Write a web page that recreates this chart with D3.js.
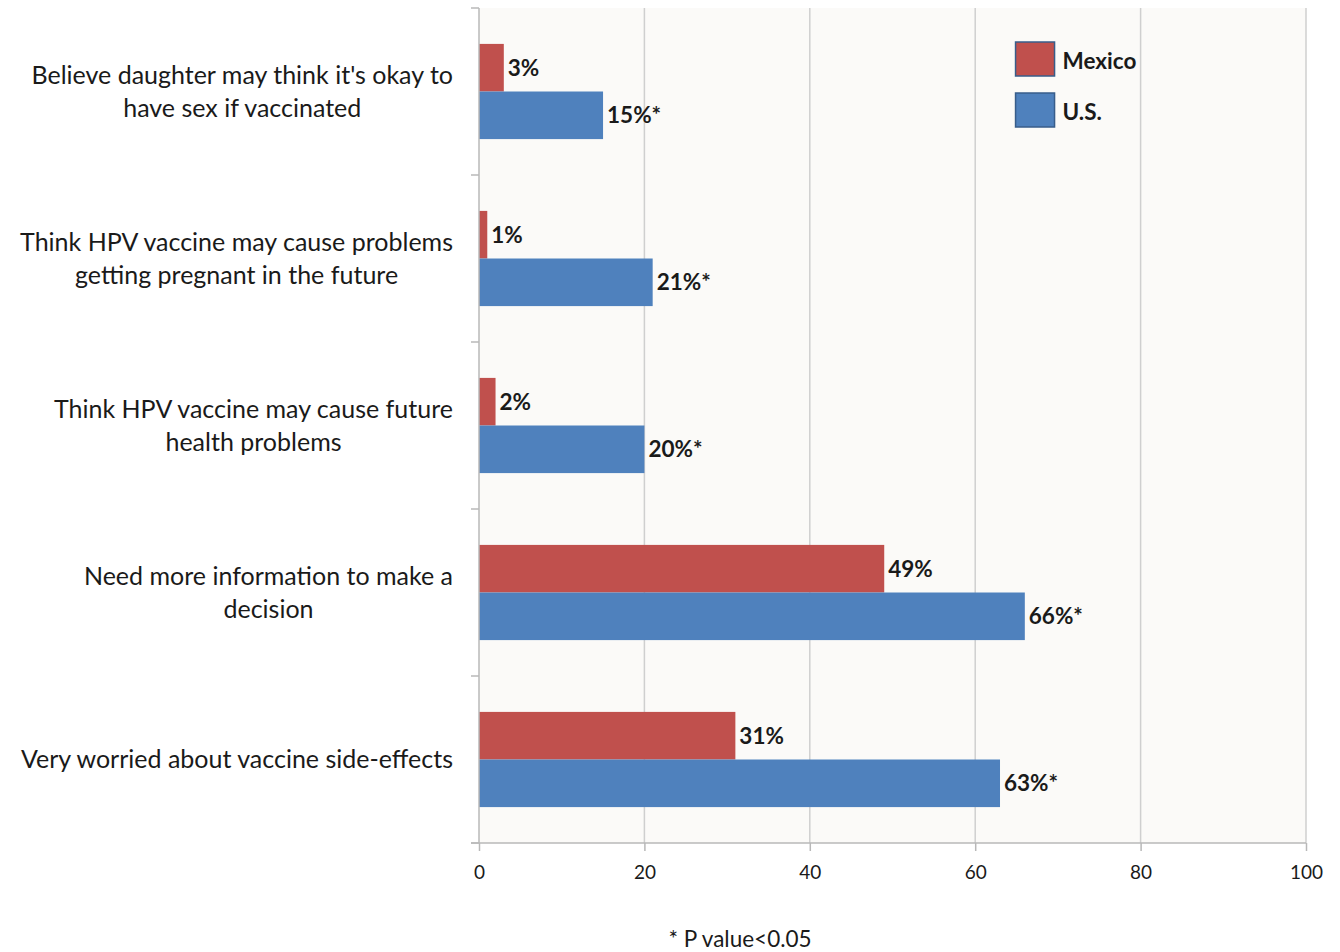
<!DOCTYPE html>
<html lang="en">
<head>
<meta charset="UTF-8">
<title>HPV vaccine concerns: Mexico vs U.S.</title>
<script src="https://d3js.org/d3.v7.min.js"></script>
<style>
  body { margin: 0; background: #fff; }
  text { font-family: Lato, "Open Sans", sans-serif; fill: #1a1a1a; }
</style>
</head>
<body>
<svg width="1340" height="952"></svg>
<script>
    // Data
    const categories = [
        ["Believe daughter may think it's okay to", "have sex if vaccinated"],
        ["Think HPV vaccine may cause problems", "getting pregnant in the future"],
        ["Think HPV vaccine may cause future", "health problems"],
        ["Need more information to make a", "decision"],
        ["Very worried about vaccine side-effects"]
    ];
    const series = ["Mexico", "U.S."];
    const mexico = [3, 1, 2, 49, 31];
    const us = [15, 21, 20, 66, 63];
    const mexicoLabels = ["3%", "1%", "2%", "49%", "31%"];
    const usLabels = ["15%*", "21%*", "20%*", "66%*", "63%*"];
    const xTicks = [0, 20, 40, 60, 80, 100];
    const colors = { "Mexico": "#c0504d", "U.S.": "#4f81bd" };

    const svg = d3.select("svg");
    const margin = { top: 8, right: 34, bottom: 109, left: 479 };
    const width = 1340 - margin.left - margin.right;
    const height = 952 - margin.top - margin.bottom;

    const g = svg.append("g")
        .attr("transform", `translate(${margin.left},${margin.top})`);

    // plot background
    g.append("rect")
        .attr("width", width)
        .attr("height", height)
        .attr("fill", "#fbfaf8");

    const x = d3.scaleLinear().domain([0, 100]).range([0, width]);
    const y0 = d3.scaleBand().domain(d3.range(categories.length)).range([0, height]);
    const y1 = d3.scaleBand().domain(series)
        .range([y0.bandwidth() * 0.215, y0.bandwidth() * 0.785]);

    // vertical gridlines
    g.selectAll("line.grid")
        .data(xTicks.slice(1))
        .enter().append("line")
            .attr("class", "grid")
            .attr("x1", d => x(d)).attr("x2", d => x(d))
            .attr("y1", 0).attr("y2", height)
            .attr("stroke", "#cfcfcf")
            .attr("stroke-width", 1.5);

    // bars
    const rows = categories.map((c, i) => ({ i, values: [
        { key: "Mexico", v: mexico[i], label: mexicoLabels[i] },
        { key: "U.S.", v: us[i], label: usLabels[i] }
    ]}));

    const rowG = g.selectAll("g.row")
        .data(rows)
        .enter().append("g")
            .attr("class", "row")
            .attr("transform", d => `translate(0,${y0(d.i)})`);

    rowG.selectAll("rect")
        .data(d => d.values)
        .enter().append("rect")
            .attr("x", 0)
            .attr("y", d => y1(d.key))
            .attr("width", d => x(d.v))
            .attr("height", y1.bandwidth())
            .attr("fill", d => colors[d.key]);

    rowG.selectAll("text.val")
        .data(d => d.values)
        .enter().append("text")
            .attr("class", "val")
            .attr("x", d => x(d.v) + 4)
            .attr("y", d => y1(d.key) + y1.bandwidth() / 2)
            .attr("dy", "0.35em")
            .attr("font-size", "22.5px")
            .attr("font-weight", "bold")
            .text(d => d.label);

    // left axis: line at zero with ticks on category boundaries
    g.append("line")
        .attr("x1", 0).attr("x2", 0)
        .attr("y1", 0).attr("y2", height)
        .attr("stroke", "#b8b8b8")
        .attr("stroke-width", 1.5);

    g.selectAll("line.ytick")
        .data(d3.range(categories.length + 1))
        .enter().append("line")
            .attr("class", "ytick")
            .attr("x1", -8).attr("x2", 0)
            .attr("y1", d => d * y0.step()).attr("y2", d => d * y0.step())
            .attr("stroke", "#b8b8b8")
            .attr("stroke-width", 1.5);

    // bottom axis
    const xAxis = g.append("g")
        .attr("transform", `translate(0,${height})`)
        .call(d3.axisBottom(x).tickValues(xTicks).tickSize(8).tickPadding(15));
    xAxis.select(".domain")
        .attr("d", `M-8,0H${width}`)
        .attr("stroke", "#b8b8b8")
        .attr("stroke-width", 1.5);
    xAxis.selectAll(".tick line").attr("stroke", "#b8b8b8").attr("stroke-width", 1.5);
    xAxis.selectAll(".tick text")
        .attr("font-size", "19px")
        .attr("font-family", "Lato, 'Open Sans', sans-serif")
        .attr("fill", "#1a1a1a");

    // category labels: lines centred, block right-aligned
    const labelRight = -26;
    const lineH = 33;
    categories.forEach((lines, i) => {
        const cy = y0(i) + y0.bandwidth() / 2;
        const tg = g.append("g");
        const texts = lines.map((t, k) => tg.append("text")
            .attr("y", cy + (k - (lines.length - 1) / 2) * lineH)
            .attr("dy", "0.35em")
            .attr("font-size", "25px")
            .attr("text-anchor", "middle")
            .text(t));
        const maxW = d3.max(texts, t => t.node().getComputedTextLength());
        texts.forEach(t => t.attr("x", labelRight - maxW / 2));
    });

    // legend
    const legend = g.append("g")
        .attr("transform", `translate(${x(65) - 1},${34})`);
    series.forEach((s, i) => {
        const lg = legend.append("g").attr("transform", `translate(0,${i * 51})`);
        lg.append("rect")
            .attr("width", 39).attr("height", 34)
            .attr("fill", colors[s])
            .attr("stroke", "#385d8a")
            .attr("stroke-width", 1.5);
        lg.append("text")
            .attr("x", 47).attr("y", 19)
            .attr("dy", "0.35em")
            .attr("font-size", "22.5px")
            .attr("font-weight", "bold")
            .text(s);
    });

    // footnote
    svg.append("text")
        .attr("x", 740)
        .attr("y", 939)
        .attr("dy", "0.35em")
        .attr("text-anchor", "middle")
        .attr("font-size", "22.5px")
        .text("* P value<0.05");
</script>
</body>
</html>
